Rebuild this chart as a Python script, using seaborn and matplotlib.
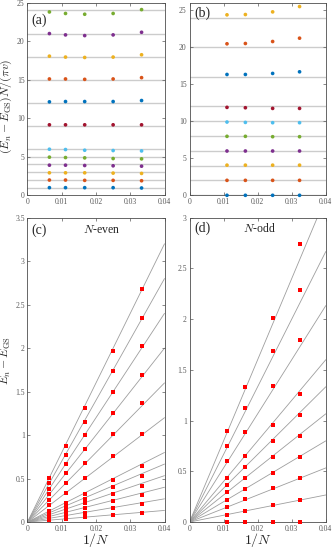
import pandas as pd
import matplotlib
matplotlib.use("Agg")
import matplotlib.pyplot as plt
import seaborn as sns

# 1/N values (even and odd system sizes)
inv_N_even = [0.0064, 0.0111, 0.0167, 0.0250, 0.0333]
inv_N_odd = [0.0110, 0.0164, 0.0244, 0.0323]

# CFT levels (horizontal reference lines)
levels_even = [1, 2, 3, 4, 5, 6, 9, 12, 15, 18, 21, 24]
levels_odd = [0, 2, 4, 6, 8, 10, 12, 16, 20, 24]

# rescaled gaps (E_n - E_GS) N / (pi v), one row per level
scaled_even = [
    [0.99, 0.99, 0.99, 0.99, 0.95],
    [1.98, 1.98, 1.94, 1.94, 1.89],
    [2.92, 2.92, 2.92, 2.88, 2.84],
    [3.91, 3.91, 3.87, 3.83, 3.78],
    [4.95, 4.90, 4.86, 4.77, 4.73],
    [5.98, 5.94, 5.85, 5.81, 5.76],
    [9.15, 9.15, 9.15, 9.15, 9.15],
    [12.13, 12.17, 12.17, 12.17, 12.30],
    [15.10, 15.10, 15.05, 15.10, 15.27],
    [18.06, 17.94, 17.89, 17.94, 18.24],
    [20.99, 20.82, 20.73, 20.82, 21.16],
    [23.80, 23.60, 23.50, 23.60, 24.10],
]
scaled_odd = [
    [0.00, 0.00, 0.00, 0.00],
    [2.02, 2.02, 2.02, 2.02],
    [4.07, 4.07, 4.07, 4.07],
    [5.98, 5.98, 5.98, 5.98],
    [7.96, 7.96, 7.91, 7.91],
    [9.89, 9.84, 9.80, 9.80],
    [11.87, 11.82, 11.73, 11.73],
    [16.31, 16.31, 16.45, 16.67],
    [20.45, 20.49, 20.76, 21.21],
    [24.36, 24.40, 24.76, 25.48],
]
pi_v = 10 / 3  # velocity factor used to convert back to energies

matlab_colors = ["#0072BD", "#D95319", "#EDB120", "#7E2F8E",
                 "#77AC30", "#4DBEEE", "#A2142F"]


def to_frame(levels, inv_N, scaled):
    rows = []
    for lev, vals in zip(levels, scaled):
        for x, v in zip(inv_N, vals):
            rows.append({"level": lev, "invN": x, "scaled": v, "E": v * pi_v * x})
    return pd.DataFrame(rows)


df_even = to_frame(levels_even, inv_N_even, scaled_even)
df_odd = to_frame(levels_odd, inv_N_odd, scaled_odd)

sns.set_style("ticks")
plt.rcParams["font.family"] = ["Liberation Serif", "DejaVu Serif"]
plt.rcParams["mathtext.fontset"] = "cm"
plt.rcParams["axes.edgecolor"] = "0.3"
plt.rcParams["axes.linewidth"] = 0.6

fig = plt.figure(figsize=(3.32, 5.48), dpi=100)
ax_a = fig.add_axes([0.0828, 0.6436, 0.4127, 0.3515])
ax_b = fig.add_axes([0.5708, 0.6436, 0.4105, 0.3515])
ax_c = fig.add_axes([0.0828, 0.0474, 0.4127, 0.5553])
ax_d = fig.add_axes([0.5708, 0.0474, 0.4105, 0.5553])

xticks = [0, 0.01, 0.02, 0.03, 0.04]
xticklabels = ["0", "0.01", "0.02", "0.03", "0.04"]

# top row: rescaled gaps
for ax, df, levels, top in [(ax_a, df_even, levels_even, 25),
                            (ax_b, df_odd, levels_odd, 26)]:
    for lev in levels:
        ax.axhline(lev, color="0.8", lw=1.0, zorder=0)
    pal = {lev: matlab_colors[i % 7] for i, lev in enumerate(levels)}
    sns.scatterplot(data=df, x="invN", y="scaled", hue="level", palette=pal,
                    s=7, linewidth=0, legend=False, ax=ax, zorder=3, clip_on=False)
    ax.set_ylim(0, top)
    ax.set_yticks([0, 5, 10, 15, 20, 25])
    ax.set_yticklabels(["0", "5", "10", "15", "20", "25"])

# bottom row: gaps vs 1/N
for ax, df, levels, top in [(ax_c, df_even, levels_even, 3.5),
                            (ax_d, df_odd, levels_odd, 3)]:
    for lev in levels:
        ax.axline((0, 0), slope=lev * pi_v, color="0.62", lw=0.6, zorder=0)
    sns.scatterplot(data=df, x="invN", y="E", color="red", marker="s",
                    s=5.5, linewidth=0, legend=False, ax=ax, zorder=3, clip_on=False)
    ax.set_ylim(0, top)
    yt = [i * 0.5 for i in range(int(top / 0.5) + 1)]
    ax.set_yticks(yt)
    ax.set_yticklabels(["%g" % t for t in yt])

for ax in [ax_a, ax_b, ax_c, ax_d]:
    ax.set_xlim(0, 0.04)
    ax.set_xticks(xticks)
    ax.set_xticklabels(xticklabels)
    ax.tick_params(direction="in", top=True, right=True, length=2.5, width=0.5,
                   labelsize=5.5, colors="0.35", pad=2)
    ax.set_xlabel("")
    ax.set_ylabel("")

ax_a.set_ylabel(r"$(E_n-E_{\rm GS})N/(\pi v)$", fontsize=8.5)
ax_a.yaxis.set_label_coords(-0.095, 0.46)
ax_c.set_ylabel(r"$E_n-E_{\rm GS}$", fontsize=8.5)
ax_c.yaxis.set_label_coords(-0.105, 0.53)
ax_c.set_xlabel(r"$1/N$", fontsize=10, labelpad=-1)
ax_d.set_xlabel(r"$1/N$", fontsize=10, labelpad=-1)

ax_a.text(0.03, 0.91, "(a)", transform=ax_a.transAxes, fontsize=10, va="center")
ax_b.text(0.035, 0.945, "(b)", transform=ax_b.transAxes, fontsize=10, va="center")
ax_c.text(0.03, 0.96, "(c)", transform=ax_c.transAxes, fontsize=10, va="center")
ax_d.text(0.035, 0.965, "(d)", transform=ax_d.transAxes, fontsize=10, va="center")
ax_c.text(0.54, 0.96, r"$N$-even", transform=ax_c.transAxes, fontsize=8.5,
          va="center", ha="center")
ax_d.text(0.51, 0.965, r"$N$-odd", transform=ax_d.transAxes, fontsize=8.5,
          va="center", ha="center")

fig.savefig("out.png", dpi=100)
